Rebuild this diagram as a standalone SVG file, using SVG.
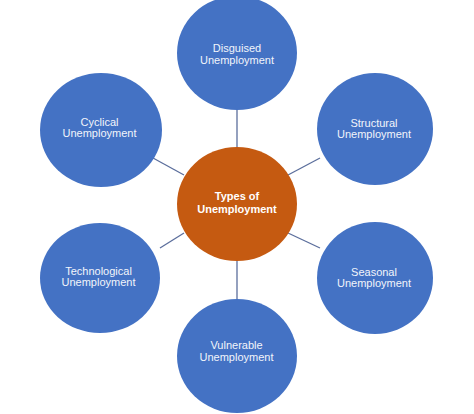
<svg xmlns="http://www.w3.org/2000/svg" width="474" height="414" viewBox="0 0 474 414">
<style>
.node{fill:#4472C4;}
.hub{fill:#C55A11;}
.lbl{font-family:"Liberation Sans",Arial,sans-serif;font-size:11px;fill:#F2F5FB;text-anchor:middle;}
.hublbl{font-family:"Liberation Sans",Arial,sans-serif;font-size:11px;font-weight:bold;fill:#FFFFFF;text-anchor:middle;}
.conn line{stroke:#5B6E9C;stroke-width:1.3;}
</style>
<rect width="474" height="414" fill="#FFFFFF"/>
<g id="connectors" class="conn">
<line x1="237" y1="110" x2="237" y2="148"/>
<line x1="237" y1="261" x2="237" y2="300"/>
<line x1="153" y1="158" x2="184" y2="175"/>
<line x1="288" y1="175" x2="320" y2="158"/>
<line x1="160" y1="248" x2="184" y2="233"/>
<line x1="288" y1="233" x2="320" y2="248"/>
</g>
<g id="hub">
<ellipse class="hub" cx="237" cy="204" rx="60" ry="57"/>
<text class="hublbl" x="237" y="200">Types of</text>
<text class="hublbl" x="237" y="213">Unemployment</text>
</g>
<g id="disguised">
<ellipse class="node" cx="237" cy="53" rx="60" ry="57"/>
<text class="lbl" x="237" y="52">Disguised</text>
<text class="lbl" x="237" y="64">Unemployment</text>
</g>
<g id="cyclical">
<ellipse class="node" cx="101" cy="130" rx="61" ry="57"/>
<text class="lbl" x="99.5" y="126">Cyclical</text>
<text class="lbl" x="99.5" y="137">Unemployment</text>
</g>
<g id="structural">
<ellipse class="node" cx="375" cy="129" rx="58" ry="56"/>
<text class="lbl" x="374" y="127">Structural</text>
<text class="lbl" x="374" y="138">Unemployment</text>
</g>
<g id="technological">
<ellipse class="node" cx="100" cy="278" rx="60" ry="55"/>
<text class="lbl" x="98.5" y="275">Technological</text>
<text class="lbl" x="98.5" y="286">Unemployment</text>
</g>
<g id="seasonal">
<ellipse class="node" cx="375" cy="278" rx="58" ry="56"/>
<text class="lbl" x="374" y="276">Seasonal</text>
<text class="lbl" x="374" y="287">Unemployment</text>
</g>
<g id="vulnerable">
<ellipse class="node" cx="237" cy="356" rx="60" ry="57"/>
<text class="lbl" x="236.5" y="349">Vulnerable</text>
<text class="lbl" x="236.5" y="361">Unemployment</text>
</g>
</svg>
